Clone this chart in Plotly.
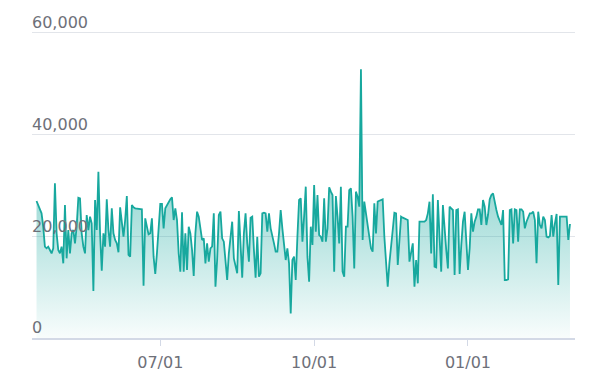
import pandas as pd
import plotly.graph_objects as go

start_date = "2023-04-18"

# daily values
values_a = [26950, 26160, 25180, 24520, 21900, 17970, 17640, 17970, 17310, 16650, 17640,
            30420,
            20590, 17310, 16650, 17970, 14690, 26160, 15670, 21240, 16650, 20590, 21240,
            18620, 21900, 27600, 27470, 20590, 17970, 16650, 24200, 21240, 23870, 22560,
            9250, 27150, 21240, 32720,
            20590, 13250, 20590, 17970, 27280, 21240, 17970, 25510, 20590, 19280, 18620,
            16850, 25700, 22560, 19930, 23210,
            27930,
            16330, 16000, 26160, 25700, 25510, 25440, 25380, 25310, 25310,
            10290,
            23540, 21900, 20390, 20590, 23540, 16000, 12590, 16650, 21900, 26360, 26360,
            21570, 25510, 26160, 26820, 27280, 27670, 23210, 25510, 23210, 16650, 13050,
            24720, 13050, 20590, 13380, 21900, 20590, 17310, 12200, 20590, 24850, 23870]
values_b = [21240, 19280, 19600, 14690, 18620, 15020, 17640, 18000]
values_c = [24520, 10100, 15340, 24200, 24850, 19600, 18950, 15340, 11410, 16650,
            20590, 22880, 15670, 14030, 12720, 24980, 17310, 11870, 20590, 24520,
            18620, 15020, 23670, 23870, 17310, 11870, 19930, 12060, 12720, 24520,
            24650, 24520, 20920, 24520, 21570, 20260, 18620, 16980, 16980, 20590,
            25180, 21570, 18620, 15340, 17640, 14690, 4850, 15340, 16000, 11410,
            19930, 27150, 27470, 18950, 23870, 29770, 16000, 11080]
values_d = [21900, 18290, 30100, 20920, 28130, 20260, 19930, 18950, 27470, 18950,
            21570, 29640, 28790, 28130, 13050, 27930, 23870, 18620, 29770, 13050,
            12060, 21900, 21900, 29110, 29440, 23870, 13700, 28790, 27800, 25830,
            52850,
            19280, 26820, 24520, 22560, 19930, 17640, 16980, 26490, 20590, 26820,
            27010, 27150, 27280, 19930, 14690, 10100, 14690, 18620, 21240, 24650,
            24520, 14360, 19930]
values_e = [23870, 23670, 23540, 23410, 23210, 15020, 17310, 18620, 10100, 15340,
            10750, 22880, 22880, 22880, 22880, 23210, 24520, 26820, 16650, 28260,
            14030, 13900, 27150, 19930, 13050, 26160, 20590, 17310, 13700, 25830,
            25510, 25180, 12390, 25180, 25310, 12590, 18290, 22880, 24850, 19600,
            13380, 17640, 24520, 20920, 22880, 23870, 25310, 25310, 22230, 27150,
            25830, 22230, 24200, 27280]
values_f = [28130, 28460, 26490, 25180, 23870, 23210, 22230, 25180, 11410, 11410,
            11540, 25180, 25310, 18620, 25310, 25180, 18950, 25310, 25310, 24850,
            21570, 22880, 23870, 24520, 24520, 24850, 23210, 14690, 24850, 22230,
            21570, 23870, 23210, 19930, 19800, 20060, 24200, 19930, 22560, 24390,
            10430, 23870, 23870, 23870, 23870, 23870, 19280, 22430]

values = values_a + values_b + values_c + values_d + values_e + values_f
dates = pd.date_range(start_date, periods=len(values), freq="D")

x_tick_vals = ["2023-07-01", "2023-10-01", "2024-01-01"]
x_tick_text = ["07/01", "10/01", "01/01"]
y_tick_vals = [0, 20000, 40000, 60000]
y_tick_text = ["0", "20,000", "40,000", "60,000"]

LINE = "#17a89e"
FONT = "DejaVu Sans"

fig = go.Figure()
fig.add_trace(go.Scatter(
    x=dates, y=values, mode="lines",
    line=dict(color=LINE, width=1.8),
    fill="tozeroy",
    fillgradient=dict(type="vertical",
                      colorscale=[[0, "rgba(23,168,158,0.03)"],
                                  [1, "rgba(23,168,158,0.75)"]]),
    hoverinfo="skip", showlegend=False,
))

fig.update_layout(
    width=597, height=388,
    margin=dict(l=32, r=22, t=12, b=50),
    paper_bgcolor="white", plot_bgcolor="white",
    font=dict(family=FONT, size=16, color="#6e7079"),
    xaxis=dict(
        type="date",
        range=["2023-04-15 07:00", "2024-03-05"],
        tickvals=x_tick_vals, ticktext=x_tick_text,
        showgrid=False, zeroline=False,
        showline=True, linecolor="#d3d9e6", linewidth=1.5,
        ticks="outside", ticklen=6, tickcolor="#d3d9e6", tickwidth=1,
        ticklabelstandoff=3,
        tickfont=dict(family=FONT, size=16, color="#6e7079"),
    ),
    yaxis=dict(
        range=[0, 64130],
        tickvals=y_tick_vals, ticktext=y_tick_text,
        ticklabelposition="inside top",
        ticklabelstandoff=-3,
        ticklabelshift=1,
        showgrid=True, gridcolor="#e2e5ea", gridwidth=1,
        zeroline=False, showline=False, ticks="",
        tickfont=dict(family=FONT, size=16, color="#6e7079"),
    ),
)

fig.write_html("out.html")
